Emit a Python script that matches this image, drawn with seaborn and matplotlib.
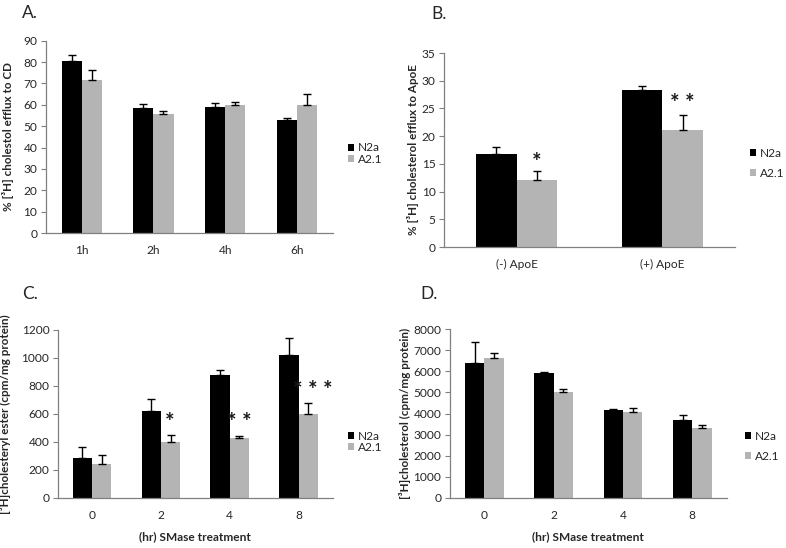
import matplotlib
matplotlib.use("Agg")
import matplotlib.pyplot as plt
import seaborn as sns
import pandas as pd
from matplotlib.patches import Patch

# ---------------- data ----------------
series = ["N2a", "A2.1"]

A_cats = ["1h", "2h", "4h", "6h"]
A_n2a = [80.3, 58.3, 59.1, 52.9]
A_n2a_err = [2.8, 2.0, 1.7, 0.7]
A_a21 = [71.6, 55.7, 60.1, 59.9]
A_a21_err = [4.7, 1.2, 1.1, 5.3]

B_cats = ["(-) ApoE", "(+) ApoE"]
B_n2a = [16.7, 28.3]
B_n2a_err = [1.3, 0.7]
B_a21 = [12.1, 21.1]
B_a21_err = [1.7, 2.7]

C_cats = ["0", "2", "4", "8"]
C_n2a = [285, 620, 880, 1020]
C_n2a_err = [80, 88, 35, 120]
C_a21 = [245, 400, 430, 600]
C_a21_err = [60, 48, 10, 78]

D_cats = ["0", "2", "4", "8"]
D_n2a = [6370, 5915, 4180, 3707]
D_n2a_err = [995, 60, 40, 205]
D_a21 = [6625, 5032, 4054, 3297]
D_a21_err = [236, 126, 205, 173]

# ---------------- style ----------------
sns.set_style("white")
plt.rcParams["font.family"] = ["Lato", "DejaVu Sans"]
TXT = "#262626"
AX = "#808080"
palette = {"N2a": "#000000", "A2.1": "#b4b4b4"}
FS = 8.6

W, H = 786, 548
fig = plt.figure(figsize=(W / 100, H / 100), dpi=100)


def px_axes(l, r, t, b):
    return fig.add_axes([l / W, 1 - b / H, (r - l) / W, (b - t) / H])


def panel(ax, cats, n2a, n2a_err, a21, a21_err, ymax, ystep, ylabel, ylab_x,
          xlabel=None):
    df = pd.DataFrame({
        "cat": cats * 2,
        "val": list(n2a) + list(a21),
        "line": ["N2a"] * len(cats) + ["A2.1"] * len(cats),
    })
    sns.barplot(data=df, x="cat", y="val", hue="line", hue_order=series,
                palette=palette, width=0.56, gap=0, errorbar=None,
                saturation=1, legend=False, ax=ax, linewidth=0)
    for cont, err in zip(ax.containers, [n2a_err, a21_err]):
        xs = [b.get_x() + b.get_width() / 2 for b in cont]
        ys = [b.get_height() for b in cont]
        ax.errorbar(xs, ys, yerr=[[0] * len(err), list(err)], fmt="none",
                    ecolor="#000000", elinewidth=1.0, capsize=3.2,
                    capthick=1.0)
    ax.set_ylim(0, ymax)
    ax.set_yticks(range(0, ymax + 1, ystep))
    ax.set_xlim(-0.5, len(cats) - 0.5)
    for s in ["top", "right"]:
        ax.spines[s].set_visible(False)
    for s in ["left", "bottom"]:
        ax.spines[s].set_color(AX)
        ax.spines[s].set_linewidth(0.9)
    ax.tick_params(axis="y", left=True, length=3.5, width=0.8, color=AX,
                   labelsize=FS, labelcolor=TXT, pad=2.5)
    ax.tick_params(axis="x", bottom=False, length=0, labelsize=FS,
                   labelcolor=TXT, pad=8.5)
    ax.set_ylabel(ylabel, fontsize=8.4, fontweight="bold", color=TXT)
    ax.yaxis.set_label_coords(ylab_x, 0.5)
    if xlabel:
        ax.set_xlabel(xlabel, fontsize=8.6, fontweight="bold", color=TXT,
                      labelpad=7.5)
    else:
        ax.set_xlabel("")


def legend(ax, x, y, spacing):
    handles = [Patch(facecolor=palette[s], edgecolor="none") for s in series]
    ax.legend(handles, series, loc="center left",
              bbox_to_anchor=(x / W, 1 - y / H), bbox_transform=fig.transFigure,
              frameon=False, fontsize=FS, handlelength=0.5, handleheight=0.5,
              handletextpad=0.35, borderpad=0, borderaxespad=0,
              labelspacing=spacing, labelcolor=TXT)


STAR = dict(ha="center", va="center", fontsize=16, fontweight="bold",
            color="#1a1a1a")

# Panel A
axA = px_axes(45.7, 333, 40.7, 233)
panel(axA, A_cats, A_n2a, A_n2a_err, A_a21, A_a21_err, 90, 10,
      "% [³H] cholestol efflux to CD", -0.112)
legend(axA, 348, 153.5, 0.02)

# Panel B
axB = px_axes(444, 735, 53, 247)
panel(axB, B_cats, B_n2a, B_n2a_err, B_a21, B_a21_err, 35, 5,
      "% [³H] cholesterol efflux to ApoE", -0.087)
legend(axB, 750, 163.5, 0.75)
axB.text(0.14, 15.2, "*", **STAR)
axB.text(1.14, 25.8, "* *", **STAR)

# Panel C
axC = px_axes(57.7, 333, 329.7, 498)
panel(axC, C_cats, C_n2a, C_n2a_err, C_a21, C_a21_err, 1200, 200,
      "[³H]cholesteryl ester (cpm/mg protein)", -0.171,
      xlabel="(hr) SMase treatment")
legend(axC, 348, 442, 0.0)
axC.text(1.12, 540, "*", **STAR)
axC.text(2.14, 540, "* *", **STAR)
axC.text(3.2, 770, "* * *", **STAR)

# Panel D
axD = px_axes(449.7, 727, 329, 498)
panel(axD, D_cats, D_n2a, D_n2a_err, D_a21, D_a21_err, 8000, 1000,
      "[³H]cholesterol (cpm/mg protein)", -0.141,
      xlabel="(hr) SMase treatment")
legend(axD, 745, 446.5, 0.75)

# Panel letters
for lab, x, y in [("A.", 22, 13), ("B.", 431, 14), ("C.", 22, 294),
                  ("D.", 420, 294)]:
    fig.text(x / W, 1 - y / H, lab, ha="left", va="center", fontsize=12.5,
             color=TXT)

fig.savefig("out.png", dpi=100)
